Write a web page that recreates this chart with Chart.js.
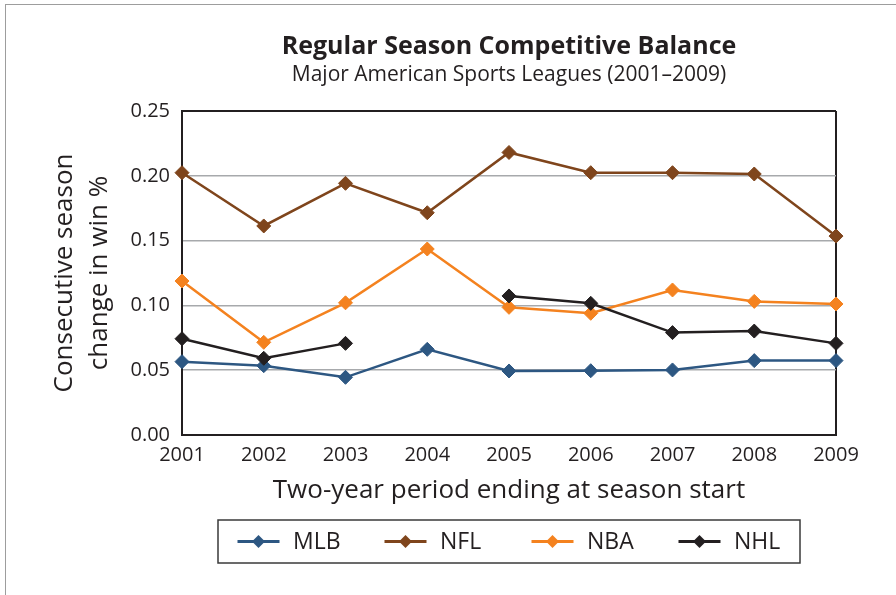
<!DOCTYPE html>
<html>
<head>
<meta charset="utf-8">
<title>Regular Season Competitive Balance</title>
<script src="https://cdn.jsdelivr.net/npm/chart.js@4.4.1/dist/chart.umd.min.js"></script>
<style>
  html, body { margin: 0; padding: 0; background: #fff; overflow: hidden; }
  #frame { position: absolute; left: 5px; top: 4px; width: 2000px; height: 2000px;
           border-left: 1px solid #9d9d9d; border-top: 1px solid #9d9d9d; }
  #chart { position: absolute; left: 0; top: 0; }
</style>
</head>
<body>
<div id="frame"></div>
<canvas id="chart" width="1018" height="595"></canvas>
<script>
// data
const years = ['2001', '2002', '2003', '2004', '2005', '2006', '2007', '2008', '2009'];
const mlb = [0.0566, 0.0535, 0.0445, 0.0661, 0.0494, 0.0496, 0.0502, 0.0574, 0.0574];
const nfl = [0.2024, 0.1613, 0.1942, 0.1715, 0.2180, 0.2024, 0.2024, 0.2014, 0.1535];
const nba = [0.1188, 0.0715, 0.1020, 0.1435, 0.0985, 0.0939, 0.1119, 0.1031, 0.1011];
const nhl = [0.0743, 0.0592, 0.0707, null, 0.1073, 0.1016, 0.0790, 0.0802, 0.0707];
const yTicks = [0, 0.05, 0.10, 0.15, 0.20, 0.25];

const FONT = '"Open Sans", "DejaVu Sans", sans-serif';
const INK = '#231f20';

function series(label, data, color, order) {
    return {
        label: label,
        data: data,
        order: order,
        borderColor: color,
        backgroundColor: color,
        borderWidth: 2.5,
        pointStyle: 'rectRot',
        pointRadius: 7,
        pointBackgroundColor: color,
        pointBorderColor: color,
        pointBorderWidth: 1,
        tension: 0,
        spanGaps: false,
        clip: false
    };
}

// legend in a framed box under the axis title
const legendBox = {
    id: 'legendBox',
    afterDraw(chart) {
        const { ctx, chartArea, scales } = chart;
        const w = 582, h = 43;
        const x0 = (chartArea.left + chartArea.right) / 2 - w / 2;
        const y0 = scales.x.bottom + 13.4;
        ctx.save();
        ctx.strokeStyle = '#3a3a3a';
        ctx.lineWidth = 1.5;
        ctx.strokeRect(x0, y0, w, h);
        ctx.font = '23px ' + FONT;
        ctx.textBaseline = 'middle';
        chart.data.datasets.forEach((ds, i) => {
            const mx = x0 + 40.5 + i * 147, my = y0 + h / 2;
            ctx.strokeStyle = ds.borderColor;
            ctx.lineWidth = 3;
            ctx.beginPath();
            ctx.moveTo(mx - 21, my);
            ctx.lineTo(mx + 21, my);
            ctx.stroke();
            ctx.fillStyle = ds.borderColor;
            ctx.beginPath();
            ctx.moveTo(mx - 6.5, my);
            ctx.lineTo(mx, my - 6.5);
            ctx.lineTo(mx + 6.5, my);
            ctx.lineTo(mx, my + 6.5);
            ctx.closePath();
            ctx.fill();
            ctx.fillStyle = INK;
            ctx.fillText(ds.label, mx + 34.5, my + 1);
        });
        ctx.restore();
    }
};

new Chart(document.getElementById('chart'), {
    type: 'line',
    data: {
        labels: years,
        datasets: [
            series('MLB', mlb, '#2d5782', 4),
            series('NFL', nfl, '#7f451c', 3),
            series('NBA', nba, '#f4821f', 2),
            series('NHL', nhl, '#231f20', 1)
        ]
    },
    options: {
        responsive: false,
        animation: false,
        layout: { padding: { top: 0, left: 0, right: 0, bottom: 88.4 } },
        plugins: {
            legend: { display: false },
            tooltip: { enabled: false },
            title: {
                display: true,
                text: 'Regular Season Competitive Balance',
                color: INK,
                font: { family: FONT, size: 25, weight: 'bold', lineHeight: 1.2 },
                padding: { top: 32, bottom: 0 }
            },
            subtitle: {
                display: true,
                text: 'Major American Sports Leagues (2001–2009)',
                color: INK,
                font: { family: FONT, size: 21, lineHeight: 1.2 },
                padding: { top: 0, bottom: 23.8 }
            }
        },
        scales: {
            x: {
                afterFit: (axis) => { axis.height = 71.6; },
                grid: {
                    drawTicks: false,
                    lineWidth: 2,
                    color: (c) => c.index === years.length - 1 ? INK : 'transparent'
                },
                border: { display: true, color: INK, width: 2 },
                ticks: { color: INK, padding: 8, font: { family: FONT, size: 20, lineHeight: 1.2 } },
                title: {
                    display: true,
                    text: 'Two-year period ending at season start',
                    color: INK,
                    font: { family: FONT, size: 26, lineHeight: 1.2 },
                    padding: { top: 8.4, bottom: 0 }
                }
            },
            y: {
                min: 0,
                max: 0.25,
                afterBuildTicks: (axis) => { axis.ticks = yTicks.map(v => ({ value: v })); },
                afterFit: (axis) => { axis.width = 182; },
                grid: {
                    drawTicks: false,
                    lineWidth: (c) => Math.abs(c.tick.value - 0.25) < 1e-9 ? 2 : 1.6,
                    color: (c) => Math.abs(c.tick.value - 0.25) < 1e-9 ? INK : '#a7a9ac'
                },
                border: { display: true, color: INK, width: 2 },
                ticks: {
                    color: INK,
                    padding: 12,
                    font: { family: FONT, size: 20 },
                    callback: (v) => Number(v).toFixed(2)
                },
                title: {
                    display: true,
                    text: ['Consecutive season', 'change in win %'],
                    color: INK,
                    font: { family: FONT, size: 26, lineHeight: 1.346 },
                    padding: { top: 47.5, bottom: 0 }
                }
            },
            // empty right-hand axis so the title and legend centre over the plot
            spacer: {
                type: 'linear',
                position: 'right',
                display: true,
                grid: { display: false },
                border: { display: false },
                ticks: { display: false },
                afterFit: (axis) => { axis.width = 182; }
            }
        }
    },
    plugins: [legendBox]
});
</script>
</body>
</html>
